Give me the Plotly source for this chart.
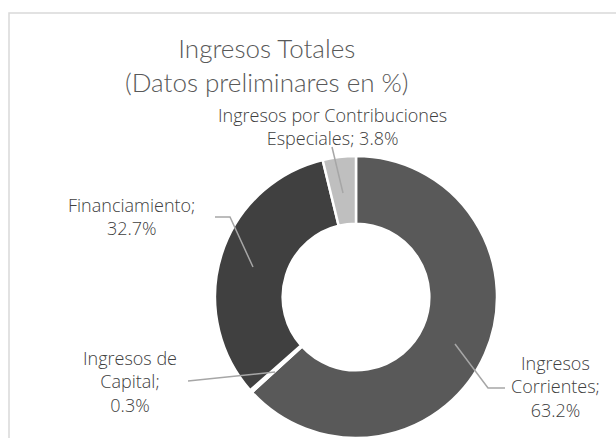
import plotly.graph_objects as go

# Data
categories = ["Ingresos Corrientes", "Ingresos de Capital", "Financiamiento",
              "Ingresos por Contribuciones Especiales"]
values = [63.2, 0.3, 32.7, 3.8]
label_texts = [
    "Ingresos<br>Corrientes;<br>63.2%",
    "Ingresos de<br>Capital;<br>0.3%",
    "Financiamiento;<br>32.7%",
    "Ingresos por Contribuciones<br>Especiales; 3.8%",
]
title_text = "Ingresos Totales<br>(Datos preliminares en %)"

colors = ["#595959", "#ffffff", "#404040", "#bfbfbf"]

W, H = 616, 438

fig = go.Figure()
fig.add_trace(go.Pie(
    labels=categories, values=values, sort=False, direction="clockwise",
    rotation=0, hole=0.52,
    marker=dict(colors=colors, line=dict(color="#ffffff", width=2.5)),
    textinfo="none", hoverinfo="label+percent", showlegend=False,
    domain=dict(x=[215 / W, 497 / W], y=[0, (H - 156) / H]),
))

annotations = []
shapes = []

# title
annotations.append(dict(
    x=267, y=65, xref="x", yref="y", text=title_text, showarrow=False,
    xanchor="center", yanchor="middle", align="center",
    font=dict(family="Lato", size=26, color="#595959", weight=300)))

# data labels (centre of each text block)
label_pos = [(555, 386), (130, 381), (131, 216.5), (332, 126.5)]
for txt, (cx, cy) in zip(label_texts, label_pos):
    annotations.append(dict(
        x=cx, y=cy, xref="x", yref="y", text=txt, showarrow=False,
        xanchor="center", yanchor="middle", align="center",
        font=dict(family="Open Sans", size=18, color="#404040", weight=300)))

# leader lines
leaders = [
    [(455, 344), (488, 388), (505, 388)],
    [(188, 381), (275, 372)],
    [(215, 217), (230, 217), (253, 267)],
    [(332, 147), (343, 193)],
]
for pts in leaders:
    path = "M " + " L ".join(f"{x},{y}" for x, y in pts)
    shapes.append(dict(type="path", path=path, xref="x", yref="y",
                       line=dict(color="#a6a6a6", width=1.5)))

# chart frame
shapes.append(dict(type="path", path="M 9,440 L 9,13 L 620,13", xref="x", yref="y",
                   line=dict(color="#d9d9d9", width=1.5)))

fig.update_layout(
    width=W, height=H, margin=dict(l=0, r=0, t=0, b=0),
    paper_bgcolor="white", plot_bgcolor="rgba(0,0,0,0)",
    xaxis=dict(range=[0, W], visible=False, fixedrange=True),
    yaxis=dict(range=[H, 0], visible=False, fixedrange=True),
    annotations=annotations, shapes=shapes,
)
fig.write_html("out.html", config={"displayModeBar": False})

# remove default browser body margin so the figure sits at the window origin
with open("out.html", encoding="utf-8") as f:
    html = f.read()
html = html.replace("<head>", "<head><style>html,body{margin:0;padding:0;overflow:hidden}</style>", 1)
with open("out.html", "w", encoding="utf-8") as f:
    f.write(html)
